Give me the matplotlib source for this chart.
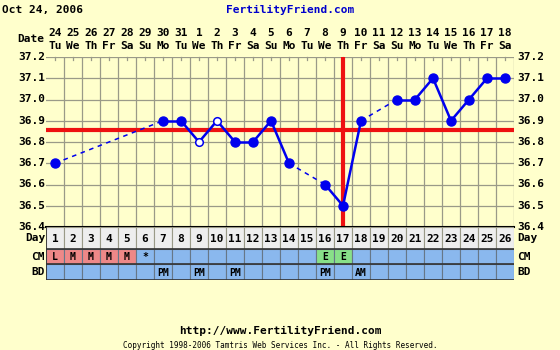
import matplotlib
matplotlib.use("Agg")
import matplotlib.pyplot as plt
import numpy as np

# ---- data ----
days = list(range(1, 27))
dates = ["24", "25", "26", "27", "28", "29", "30", "31", "1", "2", "3", "4", "5",
         "6", "7", "8", "9", "10", "11", "12", "13", "14", "15", "16", "17", "18"]
weekdays = ["Tu", "We", "Th", "Fr", "Sa", "Su", "Mo", "Tu", "We", "Th", "Fr", "Sa", "Su",
            "Mo", "Tu", "We", "Th", "Fr", "Sa", "Su", "Mo", "Tu", "We", "Th", "Fr", "Sa"]
temps = [36.7, None, None, None, None, None, 36.9, 36.9, 36.8, 36.9, 36.8, 36.8, 36.9,
         36.7, None, 36.6, 36.5, 36.9, None, 37.0, 37.0, 37.1, 36.9, 37.0, 37.1, 37.1]
open_days = [9, 10]
coverline = 36.855
ovulation_day = 17
cm = {1: "L", 2: "M", 3: "M", 4: "M", 5: "M", 6: "*", 16: "E", 17: "E"}
bd = {7: "PM", 9: "PM", 11: "PM", 16: "PM", 18: "AM"}
yticks = [36.4, 36.5, 36.6, 36.7, 36.8, 36.9, 37.0, 37.1, 37.2]

BG = "#FFFFCC"
GRID = "#9A9A88"
BLUE = "#0000EE"
RED = "#EE1111"
ROWBLUE = "#8AB8EE"
DAYROW = "#EEEEEE"
MENSES = "#EE8888"
EGG = "#88E088"
FONT = "DejaVu Sans Mono"

W, H = 560, 350
fig = plt.figure(figsize=(W / 100, H / 100), dpi=100, facecolor=BG)

def fx(px):
    return px / W

def fy(py):
    return 1 - py / H

L, R, T, B = 46, 514, 57, 227
ax = fig.add_axes([fx(L), fy(B), fx(R) - fx(L), fy(T) - fy(B)])
ax.set_facecolor(BG)
ax.set_xlim(0.5, 26.5)
ax.set_ylim(36.4, 37.2)
for d in range(1, 27):
    ax.axvline(d + 0.5, color=GRID, lw=0.9, zorder=1)
for t in yticks:
    ax.axhline(t, color=GRID, lw=0.9, zorder=1)
ax.set_xticks([])
ax.set_yticks([])
for s in ax.spines.values():
    s.set_visible(False)
ax.spines["bottom"].set_visible(True)
ax.spines["bottom"].set_color("black")
ax.spines["bottom"].set_linewidth(1.5)

for d in range(1, 27):
    ax.plot([d, d], [37.2, 37.2 - 0.012], color=GRID, lw=0.9, zorder=1, clip_on=False)

pts = [(d, t) for d, t in zip(days, temps) if t is not None]
for (d0, t0), (d1, t1) in zip(pts[:-1], pts[1:]):
    ls = "-" if d1 - d0 == 1 else (0, (3, 3))
    lw = 1.8 if d1 - d0 == 1 else 1.1
    ax.plot([d0, d1], [t0, t1], color=BLUE, lw=lw, linestyle=ls, zorder=3)

ax.axhline(coverline, color=RED, lw=3, zorder=2)
ax.axvline(ovulation_day, color=RED, lw=3, zorder=2)

for d, t in pts:
    if d in open_days:
        ax.plot(d, t, "o", ms=5.5, mfc="white", mec=BLUE, mew=1.1, zorder=4)
    else:
        ax.plot(d, t, "o", ms=6.5, mfc=BLUE, mec=BLUE, zorder=4)

for t in yticks:
    fig.text(fx(45), fy(B - (t - 36.4) / 0.8 * (B - T)), f"{t:.1f}", ha="right", va="center",
             family=FONT, weight="bold", fontsize=8)
    fig.text(fx(517), fy(B - (t - 36.4) / 0.8 * (B - T)), f"{t:.1f}", ha="left", va="center",
             family=FONT, weight="bold", fontsize=8)

tb = fig.add_axes([fx(L), fy(280), fx(R) - fx(L), fy(B) - fy(280)])
tb.set_xlim(0.5, 26.5)
tb.axis("off")
tb.set_ylim(280, 227)
rows = [("Day", 227, 249), ("CM", 249, 264), ("BD", 264, 280)]
for name, y0, y1 in rows:
    for d in days:
        if name == "Day":
            fc = DAYROW
        elif name == "CM" and d in cm and cm[d] in "LM":
            fc = MENSES
        elif name == "CM" and d in cm and cm[d] == "E":
            fc = EGG
        else:
            fc = ROWBLUE
        tb.add_patch(plt.Rectangle((d - 0.5, y0), 1, y1 - y0, facecolor=fc,
                                   edgecolor="#667788" if name != "Day" else GRID, lw=0.8))
        if name == "Day":
            txt = str(d)
        elif name == "CM":
            txt = cm.get(d, "")
        else:
            txt = bd.get(d, "")
        if txt:
            tb.text(d, (y0 + y1) / 2 + 0.5, txt, ha="center", va="center", family=FONT,
                    weight="bold", fontsize=8 if name == "Day" else 7, color="black")
    tb.plot([0.5, 26.5], [y1, y1], color="#333333", lw=1.2)
    fig.text(fx(45), fy((y0 + y1) / 2), name, ha="right", va="center", family=FONT,
             weight="bold", fontsize=8)
    fig.text(fx(517), fy((y0 + y1) / 2), name, ha="left", va="center", family=FONT,
             weight="bold", fontsize=8)
tb.plot([0.5, 0.5], [227, 280], color="#333333", lw=1.2)

for d, dt, wd in zip(days, dates, weekdays):
    xpx = L + (d - 0.5) * (R - L) / 26
    fig.text(fx(xpx), fy(33), dt, ha="center", va="center", family=FONT, weight="bold", fontsize=8)
    fig.text(fx(xpx), fy(46), wd, ha="center", va="center", family=FONT, weight="bold", fontsize=8)
fig.text(fx(44), fy(39), "Date", ha="right", va="center", family=FONT, weight="bold", fontsize=8)

fig.text(fx(2), fy(10), "Oct 24, 2006", ha="left", va="center", family=FONT, weight="bold", fontsize=8)
fig.text(fx(290), fy(10), "FertilityFriend.com", ha="center", va="center", family=FONT,
         weight="bold", fontsize=8, color="#0000CC")
fig.text(fx(280), fy(331), "http://www.FertilityFriend.com", ha="center", va="center", family=FONT,
         weight="bold", fontsize=8)
fig.text(fx(280), fy(345), "Copyright 1998-2006 Tamtris Web Services Inc. - All Rights Reserved.",
         ha="center", va="center", family=FONT, fontsize=5.5)

fig.savefig("out.png", dpi=100, facecolor=BG)
